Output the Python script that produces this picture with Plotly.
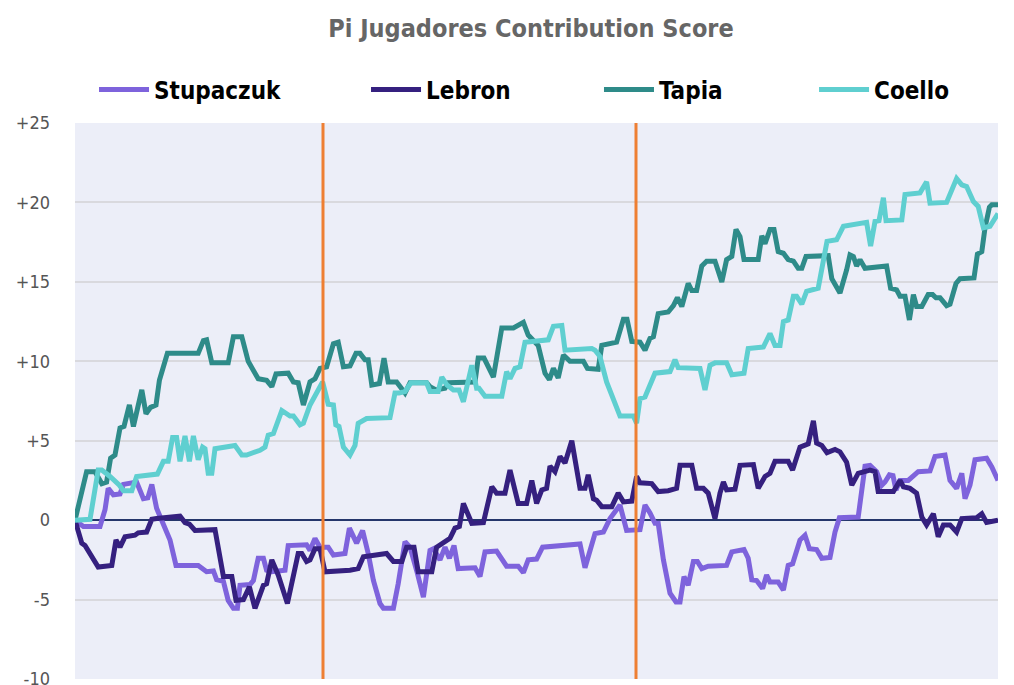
import plotly.graph_objects as go

# ---------------- data (x = point number, y = contribution score) ----------------
stupaczuk_x = [0, 2.1, 6.25, 7.5, 8.3, 9.6, 11.25, 12.1, 15.4, 17.1, 18.2, 19.2, 20.4, 22.9, 23.75, 25.25, 30.8, 32.9, 34.6, 35.4, 37.1, 38.3, 39.6, 40.6, 41.25, 43.75, 44.6, 45.8, 47.1, 47.9, 49.2, 52.5, 53.3, 57.9, 58.75, 60, 61.25, 63.3, 64.6, 67.5, 68.6, 70.4, 71.9, 73.3, 74.6, 76.25, 77.1, 79.6, 80.8, 82.5, 83.75, 85.6, 87.1, 88.75, 89.6, 91.25, 92.5, 93.6, 94.75, 95.8, 100, 101.25, 102.5, 105.4, 107.9, 110.8, 112.1, 113.3, 115.4, 116.9, 121.25, 126.25, 127.5, 128.3, 130, 132.1, 133.75, 136.25, 137.9, 141.25, 142.5, 143.75, 145, 145.8, 147.1, 148.75, 150.25, 151.25, 152.25, 153.3, 154.6, 155.6, 156.7, 158.3, 162.9, 164.2, 167.25, 168.3, 169.2, 170.4, 171.9, 172.9, 173.75, 175.8, 177.1, 178.3, 179.4, 181.25, 182.5, 183.6, 185.4, 186.7, 188.75, 190, 191.1, 195.8, 197.5, 198.75, 200.4, 201.7, 202.5, 203.6, 204.5, 205.25, 206.25, 208.3, 210.8, 213.75, 215, 217.5, 218.75, 220.4, 221.7, 222.5, 223.75, 225, 227.9, 229.2, 230.75]
stupaczuk_y = [0, -0.4, -0.4, 0.65, 2.0, 1.6, 1.65, 2.25, 2.4, 1.35, 1.4, 2.25, 0.75, -0.85, -1.25, -2.85, -2.85, -3.25, -3.2, -3.75, -3.85, -5.05, -5.55, -5.55, -4.1, -4.05, -3.8, -2.4, -2.4, -3.15, -3.25, -3.15, -1.6, -1.55, -1.9, -1.15, -1.7, -1.7, -2.2, -2.1, -0.5, -1.45, -0.65, -2.1, -3.8, -5.25, -5.55, -5.55, -4.0, -1.35, -1.7, -3.35, -4.85, -1.9, -1.8, -2.5, -1.7, -2.4, -1.6, -3.05, -3.0, -3.55, -2.0, -1.95, -2.9, -2.9, -3.3, -2.5, -2.45, -1.7, -1.6, -1.5, -3.0, -2.3, -0.85, -0.75, 0.1, 0.95, -0.65, -0.6, 0.95, 0.45, -0.2, -0.2, -2.5, -4.6, -5.15, -5.15, -3.55, -4.1, -2.6, -2.6, -3.05, -2.9, -2.85, -2.0, -1.85, -2.4, -3.75, -3.8, -4.3, -3.45, -3.9, -3.9, -4.4, -2.85, -2.75, -1.25, -0.95, -1.8, -1.85, -2.4, -2.35, -0.75, 0.15, 0.2, 3.4, 3.45, 3.05, 2.2, 2.4, 2.85, 2.8, 1.9, 2.5, 2.5, 3.05, 3.1, 4.0, 4.1, 2.5, 2.0, 2.95, 1.35, 2.2, 3.8, 3.9, 3.35, 2.5]

lebron_x = [0, 1.7, 2.5, 5.8, 9.2, 10.25, 11.25, 12.5, 15, 15.8, 17.9, 19.2, 20.4, 22.9, 26.25, 27.5, 28.6, 30, 35, 37.1, 39.2, 40.25, 42.1, 43.6, 45, 47.1, 47.9, 49.2, 50.8, 53.1, 54.6, 55.8, 56.7, 57.9, 58.75, 60, 61.25, 62.5, 68.75, 70.8, 72.1, 77.9, 79.6, 81.7, 82.9, 84.75, 85.8, 89.2, 90.4, 92.5, 93.75, 95, 96.1, 97.1, 99.2, 102.1, 104.2, 105.4, 107.5, 108.75, 110.8, 112.9, 114.2, 115.4, 116.7, 117.9, 118.75, 120, 121.25, 122.5, 124.2, 126.25, 127.5, 128.3, 129.6, 130.4, 131.7, 134.2, 135.8, 137.1, 139.2, 140.4, 141.25, 144.2, 145.8, 148.3, 150.4, 151.25, 154.2, 155.4, 157.1, 158.3, 160, 161.25, 162.1, 162.9, 165, 166.25, 169.6, 170.8, 172.5, 173.75, 175, 178.3, 179.4, 181.25, 183.3, 184.6, 185.4, 186.7, 188, 190, 191.25, 192.9, 194.2, 195.8, 198.75, 200, 200.8, 204.6, 206.25, 207.1, 208.75, 210.4, 211.7, 212.9, 214.6, 215.8, 217.1, 218.75, 220.4, 221.7, 225.4, 226.7, 227.9, 230.75]
lebron_y = [0, -1.45, -1.6, -2.95, -2.85, -1.25, -1.7, -1.05, -0.95, -0.8, -0.75, 0.05, 0.1, 0.15, 0.25, -0.15, -0.25, -0.65, -0.6, -3.55, -3.55, -5.05, -5.0, -4.2, -5.55, -4.1, -4.0, -2.5, -3.45, -5.25, -3.35, -2.1, -2.1, -2.6, -2.5, -1.8, -1.8, -3.25, -3.15, -3.05, -2.3, -2.1, -2.6, -2.6, -1.7, -1.7, -3.25, -3.25, -1.7, -1.35, -1.15, -0.5, -0.4, 1.05, -0.2, -0.15, 2.1, 1.7, 1.7, 3.15, 1.05, 1.05, 2.5, 1.05, 1.9, 2.0, 3.4, 3.05, 4.0, 3.6, 5.0, 2.0, 2.0, 2.85, 1.35, 1.25, 0.85, 0.85, 1.7, 1.15, 1.2, 2.75, 2.35, 2.3, 1.8, 1.85, 2.0, 3.45, 3.45, 2.0, 2.0, 1.7, 0.1, 1.7, 2.4, 1.9, 1.95, 3.45, 3.5, 2.0, 2.75, 2.95, 3.7, 3.7, 3.15, 4.6, 4.8, 6.25, 4.85, 4.7, 4.25, 4.45, 4.3, 3.65, 2.2, 2.95, 3.15, 3.05, 1.8, 1.8, 2.5, 2.1, 2.0, 1.7, 0.2, -0.3, 0.4, -1.05, -0.3, -0.3, -0.75, 0.1, 0.15, 0.4, -0.15, 0.0]

tapia_x = [0, 2.9, 5.0, 6.7, 7.9, 8.9, 10.0, 11.25, 12.25, 13.6, 14.6, 16.7, 17.75, 18.9, 20.25, 21.1, 23.1, 30.8, 32.1, 32.9, 34.2, 38.3, 39.6, 41.7, 43.3, 44.6, 45.8, 47.9, 49.2, 50.25, 53.3, 54.6, 55.8, 57.1, 58.75, 60, 61.25, 62.9, 64.6, 65.8, 67.1, 68.75, 70.25, 71.25, 72.5, 73.3, 74.2, 76.1, 77.25, 78.3, 80.4, 82.5, 83.75, 87.9, 88.75, 90.25, 92.5, 93.3, 100, 100.8, 102.25, 104.6, 106.7, 109.6, 112.1, 113.3, 115.8, 117.5, 118.6, 119.6, 120.8, 122.1, 123.75, 127.1, 128.1, 130.8, 131.7, 135.4, 137.1, 138, 139.2, 141.25, 142.5, 143.75, 144.6, 145.8, 148.3, 149.6, 150.6, 151.7, 153.3, 154.2, 155.4, 156.7, 157.9, 160, 161.7, 162.9, 164.2, 165.25, 166.25, 167.25, 170.8, 171.7, 172.5, 173.75, 174.75, 175.8, 177.1, 178.3, 179.6, 180.8, 181.7, 182.75, 188.3, 189.2, 191.25, 192.9, 193.75, 194.6, 195.4, 196.25, 197.5, 202.9, 203.9, 205.4, 206.25, 207.5, 208.6, 209.6, 210.4, 211.7, 213.3, 214.4, 215.25, 216.25, 217.9, 218.75, 220.25, 221.25, 224.75, 225.6, 226.7, 227.5, 228.6, 229.2, 230.75]
tapia_y = [0, 3.05, 3.05, 2.3, 2.4, 3.9, 4.1, 5.8, 5.9, 7.25, 5.9, 8.2, 6.7, 7.1, 7.25, 8.8, 10.5, 10.5, 11.3, 11.35, 9.9, 9.9, 11.55, 11.55, 10.0, 9.35, 8.9, 8.8, 8.4, 9.2, 9.25, 8.7, 8.65, 7.25, 8.7, 8.9, 9.55, 9.65, 11.1, 11.2, 9.65, 9.7, 10.5, 10.5, 10.1, 10.1, 8.5, 8.6, 10.2, 8.7, 8.7, 8.0, 8.65, 8.65, 8.4, 8.2, 8.3, 8.65, 8.7, 10.2, 10.2, 9.0, 12.1, 12.1, 12.45, 11.65, 11.0, 9.25, 8.85, 9.55, 8.95, 10.4, 10.0, 10.0, 9.55, 9.5, 11.0, 11.2, 12.65, 12.65, 11.25, 11.2, 10.7, 11.45, 11.55, 13.0, 13.1, 13.5, 14.0, 13.45, 14.9, 14.45, 14.45, 16.0, 16.3, 16.3, 15.0, 16.4, 16.6, 18.3, 17.85, 16.4, 16.4, 17.9, 17.4, 18.3, 18.3, 16.9, 16.8, 16.4, 16.3, 15.85, 15.85, 16.6, 16.65, 15.2, 14.3, 15.75, 16.7, 16.6, 16.0, 16.4, 15.85, 16.0, 14.6, 14.5, 14.1, 14.1, 12.6, 14.2, 13.45, 13.45, 14.2, 14.2, 14.0, 14.0, 13.5, 13.6, 14.9, 15.2, 15.25, 16.75, 16.9, 18.4, 19.7, 19.85, 19.85]

coello_x = [0, 3.75, 5.8, 6.7, 8.75, 11.1, 12.1, 14.2, 15.4, 17.5, 20.6, 22.1, 23.3, 24.4, 25.4, 26.25, 27.5, 28.6, 29.6, 30.8, 31.9, 32.5, 33.3, 34.2, 35, 40, 41.7, 42.9, 46.25, 47.5, 48.3, 49.6, 51.7, 53.75, 54.6, 56.25, 57.1, 58.75, 60, 61.9, 63.3, 64.6, 65.2, 66, 67.1, 68.75, 70, 70.8, 72.9, 78.75, 80, 81, 82.5, 84, 87.9, 88.75, 90.8, 91.7, 93, 94.6, 96, 97.1, 99.2, 100.4, 101, 102.5, 106.7, 107.9, 108.75, 110, 111.25, 112.5, 118.3, 119.6, 121.7, 122.5, 129.2, 130, 131.25, 132.9, 136.25, 139.6, 140.4, 141.25, 142.5, 145, 148.75, 150, 150.8, 156.25, 157.5, 158.75, 160, 162.9, 164.2, 167.25, 168.3, 172.1, 173.75, 175, 176.25, 177.1, 178.3, 179.6, 180.4, 181.7, 182.9, 185.8, 188, 190.4, 192.1, 197.9, 198.9, 200, 201, 202.1, 202.75, 206.7, 207.5, 211.25, 212.9, 213.75, 217.9, 220.4, 221.7, 222.9, 224.6, 225.8, 227.1, 228.75, 230.75]
coello_y = [0, 0.05, 3.15, 3.15, 2.75, 2.2, 1.85, 1.85, 2.75, 2.8, 2.9, 3.7, 3.7, 5.2, 5.2, 3.7, 5.3, 3.7, 5.3, 3.8, 4.6, 4.5, 2.95, 2.95, 4.5, 4.7, 4.1, 4.1, 4.4, 4.6, 5.35, 5.45, 6.9, 6.55, 6.55, 6.0, 6.1, 7.25, 7.8, 8.7, 7.3, 7.25, 6.0, 5.9, 4.6, 4.1, 4.7, 6.1, 6.4, 6.45, 8.0, 8.0, 8.1, 8.65, 8.65, 8.1, 8.1, 9.0, 8.5, 8.2, 8.2, 7.45, 9.75, 8.3, 8.3, 7.8, 7.8, 9.35, 8.9, 9.55, 9.65, 11.2, 11.35, 12.2, 12.25, 10.7, 10.8, 10.7, 10.3, 8.7, 6.55, 6.55, 6.1, 7.65, 7.75, 9.25, 9.35, 10.1, 9.6, 9.55, 8.2, 9.75, 9.9, 9.9, 9.15, 9.25, 10.8, 10.9, 11.75, 11.0, 11.0, 12.5, 12.6, 14.1, 14.1, 13.6, 14.4, 14.6, 17.55, 17.65, 18.5, 18.75, 17.25, 18.8, 18.85, 20.3, 18.85, 18.9, 20.5, 20.6, 21.3, 19.95, 20.0, 21.5, 21.1, 21.0, 20.05, 19.75, 18.4, 18.5, 19.3]

match_breaks = [62, 140.25]
x_limits = [0, 230.75]
y_limits = [-10, 25]
y_tick_vals = [-10, -5, 0, 5, 10, 15, 20, 25]
y_tick_labels = ["-10", "-5", "0", "+5", "+10", "+15", "+20", "+25"]

series = [
    ("Stupaczuk", stupaczuk_x, stupaczuk_y, "#7E63DC", "legend", 0.0206),
    ("Lebron", lebron_x, lebron_y, "#35207F", "legend2", 0.3153),
    ("Tapia", tapia_x, tapia_y, "#2E8B89", "legend3", 0.5677),
    ("Coello", coello_x, coello_y, "#5FCFD0", "legend4", 0.8007),
]

FONT = "DejaVu Sans Condensed, Roboto Condensed, Liberation Sans Narrow, Roboto, sans-serif"

fig = go.Figure()
legend_layouts = {}
for name, xs, ys, color, lg, lx in series:
    fig.add_trace(go.Scatter(
        x=xs, y=ys, mode="lines", name=name,
        line=dict(color=color, width=5),
        legend=lg,
    ))
    legend_layouts[lg] = dict(
        x=lx, y=1.0594, xanchor="left", yanchor="middle",
        orientation="h", bgcolor="rgba(0,0,0,0)", borderwidth=0,
        font=dict(family=FONT, size=24, color="#000000", weight="bold"),
        itemwidth=50,
    )

for xb in match_breaks:
    fig.add_shape(type="line", xref="x", yref="paper", x0=xb, x1=xb, y0=0, y1=1,
                  line=dict(color="#EE7F33", width=3), layer="above")

fig.update_layout(
    width=1014, height=685,
    margin=dict(l=67, r=24, t=115, b=14, autoexpand=False),
    paper_bgcolor="#FFFFFF",
    plot_bgcolor="#ECEEF8",
    title=dict(
        text="Pi Jugadores Contribution Score",
        x=0.494, xref="paper", xanchor="center",
        y=0.971, yref="container", yanchor="middle",
        font=dict(family=FONT, size=25, color="#666666", weight="bold"),
    ),
    showlegend=True,
    **legend_layouts,
)

fig.update_xaxes(range=x_limits, showticklabels=False, showgrid=False,
                 zeroline=False, showline=False, ticks="", automargin=False)
fig.update_yaxes(range=y_limits, tickvals=y_tick_vals, ticktext=y_tick_labels,
                 showgrid=True, gridcolor="#D9D9DE", gridwidth=2,
                 zeroline=True, zerolinecolor="#24366B", zerolinewidth=2,
                 showline=False, ticks="", ticklabelstandoff=24, automargin=False,
                 tickfont=dict(family=FONT, size=18, color="#555555"))

fig.write_html("out.html")
